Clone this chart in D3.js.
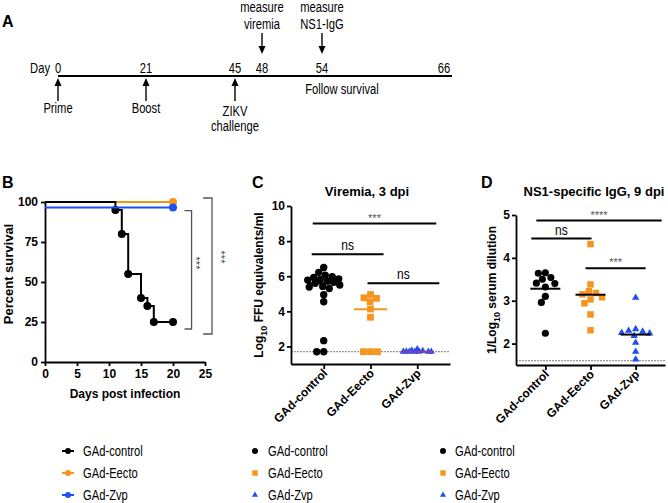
<!DOCTYPE html>
<html>
<head>
<meta charset="utf-8">
<script src="https://cdn.jsdelivr.net/npm/d3@7"></script>
<style>
  html, body { margin: 0; padding: 0; background: #fff; }
  svg { display: block; }
</style>
</head>
<body>
<svg id="fig" width="668" height="503"></svg>
<script>
// ---------- data ----------
const groups = ['GAd-control', 'GAd-Eecto', 'GAd-Zvp'];
const groupColors = ['#000000', '#F7941D', '#1F4EF5'];

// A: schedule (days)
const timelineDays = [0, 21, 45, 48, 54, 66];
const belowDays = [0, 21, 45];
const belowLabels = [['Prime'], ['Boost'], ['ZIKV', 'challenge']];
const aboveDays = [48, 54];
const aboveLabels = [['measure', 'viremia'], ['measure', 'NS1-IgG']];
const followText = 'Follow survival';

// B: survival (day, percent)
const survivalControl = [[0, 100], [11, 95], [12, 80], [13, 55], [15, 40], [16, 35], [17, 25], [20, 25]];
const survivalEecto = [[0, 100], [20, 100]];
const survivalZvp = [[0, 96.5], [20, 96.5]];
const survivalXTicks = [0, 5, 10, 15, 20, 25];
const survivalYTicks = [0, 25, 50, 75, 100];

// C: viremia, log10 FFU eq/ml
const viremiaControl = [6.5, 6.22, 6.06, 5.97, 5.93, 5.85, 5.82, 5.78, 5.72, 5.65, 5.6, 5.5, 5.42, 5.38, 5.3, 4.95, 4.55, 2.33, 1.7, 1.7];
const viremiaEecto = [4.96, 4.77, 4.74, 4.55, 4.13, 3.66, 1.7, 1.7, 1.7];
const viremiaZvp = [1.7, 1.7, 1.72, 1.7, 1.75, 1.7, 1.85, 1.7, 1.78, 1.7];
const viremiaMedian = [5.6, 4.12, 1.7];
const viremiaLod = 1.7;
const viremiaYTicks = [2, 4, 6, 8, 10];
const viremiaStats = [
  { from: 0, to: 2, y: 9.0, label: '***' },
  { from: 0, to: 1, y: 7.25, label: 'ns' },
  { from: 1, to: 2, y: 5.6, label: 'ns' }
];

// D: NS1 IgG, 1/log10 dilution
const iggControl = [3.65, 3.64, 3.54, 3.5, 3.41, 3.4, 3.32, 3.1, 2.96, 2.24];
const iggEecto = [4.32, 3.38, 3.22, 3.18, 3.15, 3.08, 3.03, 2.94, 2.68, 2.31];
const iggZvp = [3.07, 2.34, 2.3, 2.28, 2.25, 2.24, 2.18, 2.02, 1.81, 1.63];
const iggMean = [3.28, 3.14, 2.21];
const iggLod = 1.6;
const iggYTicks = [2, 3, 4, 5];
const iggStats = [
  { from: 0, to: 2, y: 4.87, label: '****' },
  { from: 0, to: 1, y: 4.45, label: 'ns' },
  { from: 1, to: 2, y: 3.76, label: '***' }
];

// ---------- style ----------
const SANS = "'Liberation Sans', Arial, Helvetica, sans-serif";
const svg = d3.select('#fig');

const shapes = [d3.symbolCircle, d3.symbolSquare, d3.symbolTriangle];

function styleAxis(g) {
  g.select('.domain').attr('stroke', '#000').attr('stroke-width', 1.8);
  g.selectAll('.tick line').attr('stroke', '#000').attr('stroke-width', 1.8);
  g.selectAll('.tick text')
    .attr('font-family', SANS)
    .attr('font-weight', 'bold')
    .attr('font-size', 12)
    .attr('fill', '#000');
}

// plain (non-bold) labels in the original use a condensed face
function plainText(parent, x, y, t, anchor) {
  return parent.append('text')
    .attr('class', 'narrow')
    .attr('x', x).attr('y', y)
    .attr('text-anchor', anchor || 'start')
    .attr('font-family', SANS).attr('font-size', 14)
    .text(t);
}

// squeeze the narrow labels horizontally (no condensed font installed)
function condense() {
  svg.selectAll('text.narrow').each(function () {
    const w = this.getComputedTextLength();
    d3.select(this)
      .attr('textLength', w * 0.8)
      .attr('lengthAdjust', 'spacingAndGlyphs');
  });
}

function panelLetter(x, y, t) {
  svg.append('text')
    .attr('x', x).attr('y', y)
    .attr('font-family', SANS).attr('font-weight', 'bold').attr('font-size', 16)
    .text(t);
}

// simple beeswarm: horizontal offsets so markers don't pile up
function swarm(values, y, dmin, maxHalf) {
  const order = values.map((v, i) => i).sort((a, b) => values[b] - values[a]);
  const cands = d3.range(-maxHalf, maxHalf + 0.01, 0.5)
    .sort((a, b) => Math.abs(a) - Math.abs(b));
  const placed = [];
  const offs = new Array(values.length);
  order.forEach(i => {
    const yy = y(values[i]);
    let best = 0, bestD = -1;
    for (const dx of cands) {
      let md = Infinity;
      placed.forEach(p => { md = Math.min(md, Math.hypot(p.x - dx, p.y - yy)); });
      if (md >= dmin) { best = dx; break; }
      if (md > bestD) { bestD = md; best = dx; }
    }
    placed.push({ x: best, y: yy });
    offs[i] = best;
  });
  return offs;
}

// ---------- A: timeline ----------
function drawTimeline() {
  panelLetter(2, 27, 'A');
  const g = svg.append('g');
  // not drawn to scale in the original
  const x = d3.scaleLinear().domain(timelineDays).range([58, 146, 235, 262, 322, 444]);
  const lineY = 76;

  g.append('line')
    .attr('x1', x(0)).attr('x2', x(66) + 8)
    .attr('y1', lineY).attr('y2', lineY)
    .attr('stroke', '#000').attr('stroke-width', 2);

  plainText(g, x(0) - 8, 73, 'Day', 'end');
  timelineDays.forEach(d => plainText(g, x(d), 73, d, 'middle'));

  // arrows pointing up at the line
  belowDays.forEach((d, i) => {
    const cx = x(d);
    g.append('line')
      .attr('x1', cx).attr('x2', cx).attr('y1', 101).attr('y2', 84)
      .attr('stroke', '#000').attr('stroke-width', 1.4);
    g.append('path')
      .attr('d', `M${cx},78L${cx - 3.5},86L${cx + 3.5},86Z`)
      .attr('fill', '#000');
    const lines = belowLabels[i];
    const base = 113 + (lines.length - 1) * 3;
    lines.forEach((t, j) => plainText(g, cx, base + j * 15, t, 'middle'));
  });

  // arrows pointing down
  aboveDays.forEach((d, i) => {
    const cx = x(d);
    g.append('line')
      .attr('x1', cx).attr('x2', cx).attr('y1', 33).attr('y2', 48)
      .attr('stroke', '#000').attr('stroke-width', 1.4);
    g.append('path')
      .attr('d', `M${cx},54L${cx - 3.5},46L${cx + 3.5},46Z`)
      .attr('fill', '#000');
    aboveLabels[i].forEach((t, j) => plainText(g, cx, 12 + j * 17, t, 'middle'));
  });

  plainText(g, x(54) + 20, 94, followText, 'middle');
}

// ---------- B: survival ----------
function drawSurvival() {
  panelLetter(2, 188, 'B');
  const g = svg.append('g');
  const x = d3.scaleLinear().domain([0, 25]).range([45, 205]);
  const y = d3.scaleLinear().domain([0, 100]).range([362, 202]);

  g.append('g')
    .attr('transform', `translate(0,${y(0)})`)
    .call(d3.axisBottom(x).tickValues(survivalXTicks).tickSize(4).tickPadding(3).tickSizeOuter(0))
    .call(styleAxis);
  g.append('g')
    .attr('transform', `translate(${x(0)},0)`)
    .call(d3.axisLeft(y).tickValues(survivalYTicks).tickSize(4).tickPadding(3).tickSizeOuter(0))
    .call(styleAxis);

  g.append('text')
    .attr('x', (x(0) + x(25)) / 2).attr('y', 398)
    .attr('text-anchor', 'middle')
    .attr('font-family', SANS).attr('font-weight', 'bold').attr('font-size', 12)
    .text('Days post infection');
  g.append('text')
    .attr('transform', 'translate(13,274) rotate(-90)')
    .attr('text-anchor', 'middle')
    .attr('font-family', SANS).attr('font-weight', 'bold').attr('font-size', 13)
    .text('Percent survival');

  const line = d3.line().x(d => x(d[0])).y(d => y(d[1])).curve(d3.curveStepAfter);
  const series = [
    { data: survivalEecto, color: groupColors[1] },
    { data: survivalControl, color: groupColors[0] },
    { data: survivalZvp, color: groupColors[2] }
  ];
  series.forEach(s => {
    g.append('path')
      .datum(s.data)
      .attr('d', line)
      .attr('fill', 'none')
      .attr('stroke', s.color)
      .attr('stroke-width', 2);
    g.selectAll(null)
      .data(s.data.slice(1))
      .enter().append('circle')
      .attr('cx', d => x(d[0])).attr('cy', d => y(d[1]))
      .attr('r', 4)
      .attr('fill', s.color);
  });

  // significance brackets
  const brackets = [
    { x: 22.9, tick: 1.1, top: y(96.5) + 3, bottom: y(25) + 7, sx: 200, sy: 263 },
    { x: 26.1, tick: 1.4, top: y(100) - 4, bottom: y(25) + 12, sx: 225, sy: 257 }
  ];
  brackets.forEach(b => {
    const bx = x(b.x), tx = bx - b.tick * 6.4;
    g.append('path')
      .attr('d', `M${tx},${b.top}H${bx}V${b.bottom}H${tx}`)
      .attr('fill', 'none')
      .attr('stroke', '#555')
      .attr('stroke-width', 1.3);
    g.append('text')
      .attr('transform', `translate(${b.sx},${b.sy}) rotate(90)`)
      .attr('text-anchor', 'middle')
      .attr('font-family', SANS).attr('font-size', 11)
      .attr('fill', '#444')
      .attr('dy', '0.7em')
      .text('***');
  });
}

// ---------- C / D: column scatter ----------
function drawScatter(opt) {
  panelLetter(opt.letterX, 188, opt.letter);
  const g = svg.append('g');
  const x = d3.scalePoint().domain(groups).range(opt.xRange).padding(opt.pad);
  const y = d3.scaleLinear().domain(opt.yDomain).range(opt.yRange);

  g.append('text')
    .attr('x', opt.titleX).attr('y', 196)
    .attr('text-anchor', 'middle')
    .attr('font-family', SANS).attr('font-weight', 'bold').attr('font-size', 13)
    .text(opt.title);

  // limit of detection
  g.append('line')
    .attr('x1', opt.xRange[0]).attr('x2', opt.xRange[1])
    .attr('y1', y(opt.lod)).attr('y2', y(opt.lod))
    .attr('stroke', '#999').attr('stroke-width', 1.2)
    .attr('stroke-dasharray', '2,1');

  const xAxis = g.append('g')
    .attr('transform', `translate(0,${opt.yRange[0]})`)
    .call(d3.axisBottom(x).tickSize(5).tickSizeOuter(0))
    .call(styleAxis);
  xAxis.selectAll('.tick text')
    .attr('x', 0).attr('y', 0).attr('dy', null)
    .attr('text-anchor', 'end')
    .attr('transform', 'translate(4,10) rotate(-45)');

  g.append('g')
    .attr('transform', `translate(${opt.xRange[0]},0)`)
    .call(d3.axisLeft(y).tickValues(opt.yTicks).tickFormat(d3.format('d'))
      .tickSize(4).tickPadding(2).tickSizeOuter(0))
    .call(styleAxis);

  // y title with subscript 10
  const yt = g.append('text')
    .attr('transform', `translate(${opt.yTitleX},${(opt.yRange[0] + opt.yRange[1]) / 2}) rotate(-90)`)
    .attr('text-anchor', 'middle')
    .attr('font-family', SANS).attr('font-weight', 'bold').attr('font-size', 12);
  yt.append('tspan').text(opt.yTitle[0]);
  yt.append('tspan').attr('font-size', 9).attr('dy', 4).text('10');
  yt.append('tspan').attr('dy', -4).text(opt.yTitle[1]);

  // points
  opt.series.forEach((vals, i) => {
    const offs = swarm(vals, y, opt.dmin[i], opt.maxHalf[i]);
    const sym = d3.symbol().type(shapes[i]).size(opt.sizes[i]);
    g.selectAll(null)
      .data(vals)
      .enter().append('path')
      .attr('d', sym)
      .attr('transform', (d, k) => `translate(${x(groups[i]) + offs[k]},${y(d)})`)
      .attr('fill', groupColors[i]);
  });

  // center lines (median or mean)
  g.selectAll(null)
    .data(opt.center)
    .enter().append('line')
    .attr('x1', (d, i) => x(groups[i]) - opt.lineHalf)
    .attr('x2', (d, i) => x(groups[i]) + opt.lineHalf)
    .attr('y1', d => y(d)).attr('y2', d => y(d))
    .attr('stroke', (d, i) => opt.lineColors[i])
    .attr('stroke-width', 2);

  // comparisons
  opt.stats.forEach((s, i) => {
    const x1 = x(groups[s.from]) + opt.statPad[i][0];
    const x2 = x(groups[s.to]) + opt.statPad[i][1];
    const ly = y(s.y);
    g.append('line')
      .attr('x1', x1).attr('x2', x2).attr('y1', ly).attr('y2', ly)
      .attr('stroke', '#000').attr('stroke-width', 2);
    if (s.label === 'ns') {
      plainText(g, (x1 + x2) / 2, ly - 4, 'ns', 'middle').attr('font-size', 15);
    } else {
      g.append('text')
        .attr('x', (x1 + x2) / 2).attr('y', ly - 2)
        .attr('text-anchor', 'middle')
        .attr('font-family', SANS).attr('font-size', 11)
        .attr('fill', '#555')
        .text(s.label);
    }
  });
}

// ---------- legends ----------
function drawLegends() {
  const rowY = d => 451 + d * 22;
  const cols = [
    { x: 68, textX: 83, kind: 'line' },
    { x: 255, textX: 268, kind: 'symbol' },
    { x: 443, textX: 455, kind: 'symbol' }
  ];
  cols.forEach(c => {
    const g = svg.append('g');
    groups.forEach((name, i) => {
      const cy = rowY(i);
      if (c.kind === 'line') {
        g.append('line')
          .attr('x1', c.x - 6).attr('x2', c.x + 6).attr('y1', cy).attr('y2', cy)
          .attr('stroke', groupColors[i]).attr('stroke-width', 2);
        g.append('circle').attr('cx', c.x).attr('cy', cy).attr('r', 3)
          .attr('fill', groupColors[i]);
      } else {
        const sizes = [28, 30, 16];
        g.append('path')
          .attr('d', d3.symbol().type(shapes[i]).size(sizes[i]))
          .attr('transform', `translate(${c.x},${cy})`)
          .attr('fill', groupColors[i]);
      }
      plainText(g, c.textX, cy + 5, name);
    });
  });
}

drawTimeline();
drawSurvival();
drawScatter({
  letter: 'C', letterX: 252, title: 'Viremia, 3 dpi', titleX: 367,
  xRange: [291, 450], pad: 0.7, yDomain: [1, 10], yRange: [364, 206],
  yTicks: viremiaYTicks, yTitle: ['Log', ' FFU equivalents/ml'], yTitleX: 263,
  lod: viremiaLod,
  series: [viremiaControl, viremiaEecto, viremiaZvp],
  sizes: [43, 46, 22], dmin: [6.8, 7, 5.5], maxHalf: [16, 14, 14],
  center: viremiaMedian, lineHalf: 16.5,
  lineColors: ['#000', groupColors[1], '#8E3FA8'],
  stats: viremiaStats, statPad: [[-11, 19], [-12, 13], [-3, 22]]
});
drawScatter({
  letter: 'D', letterX: 481, title: 'NS1-specific IgG, 9 dpi', titleX: 594,
  xRange: [516, 665], pad: 0.65, yDomain: [1.5, 5], yRange: [365, 215],
  yTicks: iggYTicks, yTitle: ['1/Log', ' serum dilution'], yTitleX: 496,
  lod: iggLod,
  series: [iggControl, iggEecto, iggZvp],
  sizes: [40, 42, 24], dmin: [7, 7, 7], maxHalf: [14, 14, 14],
  center: iggMean, lineHalf: 15,
  lineColors: ['#000', '#000', '#000'],
  stats: iggStats, statPad: [[-9, 26], [-14, 1], [-5, 10]]
});
drawLegends();
condense();
</script>
</body>
</html>
